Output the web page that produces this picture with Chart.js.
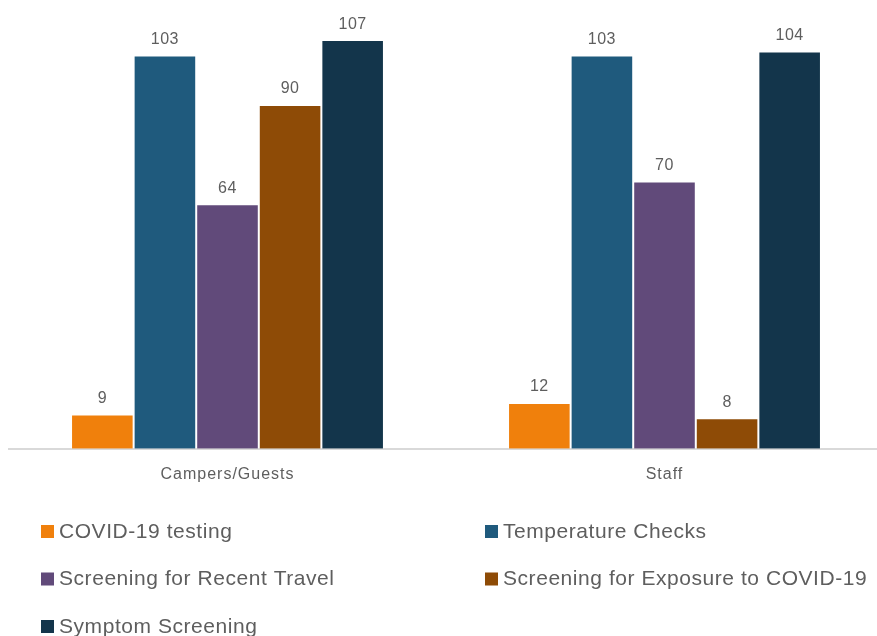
<!DOCTYPE html>
<html>
<head>
<meta charset="utf-8">
<script src="https://cdn.jsdelivr.net/npm/chart.js@4.4.1/dist/chart.umd.min.js"></script>
<style>
  html, body { margin: 0; padding: 0; background: #fff; overflow: hidden; }
  #wrap { position: relative; width: 883px; height: 636px; }
</style>
</head>
<body>
<div id="wrap"><canvas id="c" width="883" height="636"></canvas></div>
<script>
const categories = ["Campers/Guests", "Staff"];
const seriesNames = ["COVID-19 testing", "Temperature Checks", "Screening for Recent Travel", "Screening for Exposure to COVID-19", "Symptom Screening"];
const covidTesting = [9, 12];
const temperatureChecks = [103, 103];
const recentTravel = [64, 70];
const exposure = [90, 8];
const symptomScreening = [107, 104];
const seriesColors = ["#F0800C", "#1F5A7D", "#614A7A", "#8E4B06", "#13354B"];

const values = [covidTesting, temperatureChecks, recentTravel, exposure, symptomScreening];
const FONT = "'Liberation Sans', Arial, sans-serif";
const TEXT = "#5e5e5e";

const spacing = {
  id: 'spacing',
  beforeDraw(chart) { chart.ctx.letterSpacing = '1px'; }
};

const valueLabels = {
  id: 'valueLabels',
  afterDatasetsDraw(chart) {
    const ctx = chart.ctx;
    ctx.save();
    ctx.font = "16px " + FONT;
    ctx.letterSpacing = '0.5px';
    ctx.fillStyle = TEXT;
    ctx.textAlign = 'center';
    ctx.textBaseline = 'middle';
    chart.data.datasets.forEach((ds, i) => {
      const meta = chart.getDatasetMeta(i);
      meta.data.forEach((el, j) => {
        ctx.fillText(String(ds.data[j]), el.x, el.y - 16);
      });
    });
    ctx.restore();
  }
};

const gridLegend = {
  id: 'gridLegend',
  afterDraw(chart) {
    const ctx = chart.ctx;
    ctx.save();
    ctx.font = "21px " + FONT;
    ctx.letterSpacing = '0.55px';
    ctx.textBaseline = 'middle';
    ctx.textAlign = 'left';
    chart.data.datasets.forEach((ds, i) => {
      const col = i % 2, row = Math.floor(i / 2);
      const x = col === 0 ? 41 : 485;
      const y = 531 + row * 47.5;
      ctx.fillStyle = ds.backgroundColor;
      ctx.fillRect(x, y - 6, 13, 13);
      ctx.fillStyle = TEXT;
      ctx.fillText(ds.label, x + 18, y + 1);
    });
    ctx.restore();
  }
};

new Chart(document.getElementById('c'), {
  type: 'bar',
  data: {
    labels: categories,
    datasets: seriesNames.map((n, i) => ({
      label: n,
      data: values[i],
      backgroundColor: seriesColors[i],
      borderColor: 'rgba(255,255,255,0.22)',
      borderWidth: 1,
      categoryPercentage: 0.716,
      barPercentage: 1.0
    }))
  },
  options: {
    responsive: false,
    animation: false,
    layout: { padding: { left: 9, right: 0, top: 0, bottom: 136 } },
    plugins: { legend: { display: false }, tooltip: { enabled: false } },
    scales: {
      x: {
        grid: { display: false, drawTicks: false },
        border: { display: true, color: '#d9d9d9', width: 2 },
        ticks: { color: TEXT, font: { family: FONT, size: 16 }, padding: 16 }
      },
      y: {
        display: false,
        min: 0,
        max: 117.5
      }
    }
  },
  plugins: [spacing, valueLabels, gridLegend]
});
</script>
</body>
</html>
